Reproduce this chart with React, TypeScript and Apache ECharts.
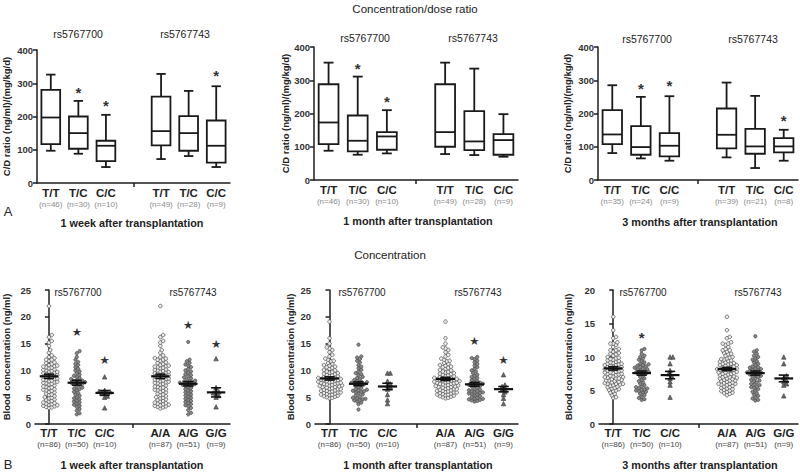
import React, { useEffect, useRef } from "react";
import * as echarts from "echarts";

const FONT = "'Liberation Sans', Arial, sans-serif";

// ---------- Top row: concentration/dose ratio (box plots) ----------
const topCategories = ["T/T", "T/C", "C/C", "", "T/T", "T/C", "C/C"];
const topNWeek = ["(n=46)", "(n=30)", "(n=10)", "", "(n=49)", "(n=28)", "(n=9)"];
const topNMonth = ["(n=46)", "(n=30)", "(n=10)", "", "(n=49)", "(n=28)", "(n=9)"];
const topN3m = ["(n=35)", "(n=24)", "(n=9)", "", "(n=39)", "(n=21)", "(n=8)"];
// [min, Q1, median, Q3, max]
const boxWeek = [[97, 117, 197, 280, 326], [88, 103, 150, 200, 247], [48, 66, 112, 127, 205], null, [72, 113, 156, 260, 328], [81, 97, 150, 201, 277], [48, 61, 112, 188, 291]];
const boxMonth = [[88, 108, 173, 288, 353], [76, 86, 118, 194, 311], [80, 91, 131, 144, 210], null, [78, 100, 144, 288, 353], [75, 90, 116, 207, 335], [70, 76, 120, 138, 198]];
const box3m = [[81, 108, 137, 210, 285], [65, 76, 99, 162, 250], [58, 71, 103, 141, 252], null, [68, 95, 136, 215, 293], [36, 79, 101, 154, 253], [58, 83, 101, 126, 151]];
const starTopWeek = [null, 280, 243, null, null, null, 333];
const starTopMonth = [null, 345, 245, null, null, null, null];
const starTop3m = [null, 285, 292, null, null, null, 188];
const topYTicks = [0, 400, 100];

// ---------- Bottom row: concentration (scatter dot plots) ----------
const botCategories = ["T/T", "T/C", "C/C", "", "A/A", "A/G", "G/G"];
const botN = ["(n=86)", "(n=50)", "(n=10)", "", "(n=87)", "(n=51)", "(n=9)"];

const tt1 = [22.0, 16.6, 16.2, 15.5, 15.2, 14.6, 13.8, 13.3, 12.8, 12.5, 12.3, 12.0, 12.0, 11.8, 11.5, 11.2, 11.0, 10.9, 10.7, 10.5, 10.4, 10.2, 10.0, 9.9, 9.7, 9.6, 9.4, 9.3, 9.1, 9.0, 8.9, 8.8, 8.7, 8.6, 8.5, 8.3, 8.2, 8.0, 7.9, 7.7, 7.6, 7.4, 7.2, 7.0, 6.9, 6.7, 6.5, 6.4, 6.2, 6.0, 5.9, 5.7, 5.5, 5.4, 5.2, 5.0, 4.9, 4.8, 4.6, 4.5, 4.3, 4.2, 4.0, 3.9, 3.8, 3.7, 3.6, 3.5, 3.4, 3.3, 3.2, 3.1, 3.0, 11.4, 10.8, 10.6, 10.1, 9.8, 9.5, 9.2, 8.4, 8.1, 7.8, 7.5, 6.8, 6.3];
const tc1 = [13.6, 13.2, 12.5, 12.0, 11.6, 11.2, 11.0, 10.6, 10.3, 10.0, 9.8, 9.5, 9.2, 9.0, 8.8, 8.6, 8.4, 8.2, 8.0, 7.9, 7.8, 7.7, 7.6, 7.5, 7.3, 7.0, 6.8, 6.5, 6.3, 6.0, 5.8, 5.5, 5.3, 5.0, 4.8, 4.6, 4.4, 4.2, 4.0, 3.8, 3.6, 3.4, 3.2, 2.8, 2.5, 2.0, 1.8, 8.1, 7.4, 6.6];
const cc1 = [8.8, 6.3, 6.1, 6.0, 5.9, 5.8, 5.7, 5.2, 5.0, 3.0];
const aa1 = [22.0, 16.6, 16.2, 15.5, 15.2, 14.6, 13.8, 13.3, 12.8, 12.5, 12.3, 12.2, 12.0, 12.0, 11.8, 11.5, 11.2, 11.0, 10.9, 10.7, 10.5, 10.4, 10.2, 10.0, 9.9, 9.7, 9.6, 9.4, 9.3, 9.1, 9.0, 8.9, 8.8, 8.7, 8.6, 8.5, 8.3, 8.2, 8.0, 7.9, 7.7, 7.6, 7.4, 7.2, 7.0, 6.9, 6.7, 6.5, 6.4, 6.2, 6.0, 5.9, 5.7, 5.5, 5.4, 5.2, 5.0, 4.9, 4.8, 4.6, 4.5, 4.3, 4.2, 4.0, 3.9, 3.8, 3.7, 3.6, 3.5, 3.4, 3.3, 3.2, 3.1, 2.9, 11.4, 10.8, 10.6, 10.1, 9.8, 9.5, 9.2, 8.4, 8.1, 7.8, 7.5, 6.8, 6.3];
const ag1 = [15.3, 12.0, 11.7, 11.4, 11.1, 10.9, 10.6, 10.3, 10.0, 9.8, 9.6, 9.3, 9.1, 8.9, 8.7, 8.5, 8.3, 8.1, 8.0, 7.9, 7.8, 7.7, 7.6, 7.5, 7.4, 7.3, 7.1, 6.9, 6.7, 6.5, 6.3, 6.1, 5.9, 5.7, 5.5, 5.3, 5.1, 4.9, 4.7, 4.5, 4.3, 4.1, 3.9, 3.7, 3.5, 3.3, 3.0, 2.6, 2.1, 1.8, 7.2];
const gg1 = [12.2, 6.8, 6.2, 6.0, 5.8, 5.6, 5.3, 5.0, 3.2];

const tt2 = [19.1, 16.0, 15.0, 14.3, 14.1, 13.8, 13.4, 12.9, 12.6, 12.2, 12.0, 11.7, 11.4, 11.2, 11.0, 10.9, 10.7, 10.5, 10.3, 10.1, 10.0, 9.8, 9.7, 9.5, 9.4, 9.2, 9.1, 9.0, 8.9, 8.8, 8.7, 8.6, 8.5, 8.4, 8.3, 8.2, 8.1, 8.0, 7.9, 7.8, 7.7, 7.6, 7.5, 7.4, 7.3, 7.2, 7.1, 7.0, 6.9, 6.8, 6.7, 6.6, 6.5, 6.4, 6.3, 6.2, 6.1, 6.0, 5.9, 5.8, 5.7, 5.6, 5.5, 5.4, 5.3, 5.2, 5.1, 5.0, 4.9, 4.8, 9.6, 9.3, 8.6, 8.2, 7.9, 7.5, 7.2, 6.9, 6.5, 6.2, 5.9, 5.5, 8.4, 7.7, 10.6, 11.8];
const tc2 = [14.8, 12.6, 12.4, 12.1, 11.8, 11.5, 11.0, 10.7, 10.4, 10.1, 9.8, 9.5, 9.3, 9.1, 8.8, 8.6, 8.4, 8.2, 8.0, 7.9, 7.8, 7.7, 7.6, 7.5, 7.4, 7.3, 7.1, 6.9, 6.7, 6.5, 6.4, 6.3, 6.2, 6.1, 6.0, 5.9, 5.7, 5.5, 5.3, 5.1, 4.9, 4.8, 4.7, 4.6, 4.5, 4.4, 4.2, 4.0, 3.7, 2.7];
const cc2 = [9.5, 9.5, 8.0, 7.5, 7.2, 6.9, 6.5, 5.5, 4.5, 3.8];
const aa2 = [19.1, 16.0, 15.0, 14.3, 14.1, 13.8, 13.4, 12.9, 12.6, 12.2, 12.0, 11.7, 11.4, 11.2, 11.0, 10.9, 10.7, 10.5, 10.3, 10.1, 10.0, 9.8, 9.7, 9.5, 9.4, 9.2, 9.1, 9.0, 8.9, 8.8, 8.7, 8.6, 8.5, 8.4, 8.3, 8.2, 8.1, 8.0, 8.0, 7.9, 7.8, 7.7, 7.6, 7.5, 7.4, 7.3, 7.2, 7.1, 7.0, 6.9, 6.8, 6.7, 6.6, 6.5, 6.4, 6.3, 6.2, 6.1, 6.0, 5.9, 5.8, 5.7, 5.6, 5.5, 5.4, 5.3, 5.2, 5.1, 5.0, 4.9, 4.8, 9.6, 9.3, 8.6, 8.2, 7.9, 7.5, 7.2, 6.9, 6.5, 6.2, 5.9, 5.5, 8.4, 7.7, 10.6, 11.8];
const ag2 = [12.5, 12.3, 12.1, 11.8, 11.5, 11.2, 10.9, 10.6, 10.3, 10.0, 9.8, 9.5, 9.2, 9.0, 8.8, 8.6, 8.4, 8.2, 8.0, 7.8, 7.7, 7.6, 7.5, 7.4, 7.3, 7.2, 7.0, 6.8, 6.6, 6.4, 6.2, 6.1, 6.0, 5.9, 5.8, 5.7, 5.6, 5.5, 5.4, 5.2, 5.0, 4.9, 4.8, 4.7, 4.6, 4.5, 4.4, 4.3, 4.2, 6.3, 7.1];
const gg2 = [9.2, 7.3, 7.0, 6.6, 6.4, 6.0, 5.5, 4.8, 3.8];

const tt3 = [16.0, 14.0, 13.0, 12.8, 12.2, 12.0, 12.0, 11.8, 11.5, 11.2, 11.0, 10.8, 10.6, 10.4, 10.2, 10.0, 9.9, 9.8, 9.6, 9.5, 9.4, 9.3, 9.2, 9.1, 9.0, 8.9, 8.8, 8.7, 8.6, 8.5, 8.4, 8.3, 8.2, 8.1, 8.0, 7.9, 7.8, 7.7, 7.6, 7.5, 7.4, 7.3, 7.2, 7.1, 7.0, 6.9, 6.8, 6.7, 6.6, 6.5, 6.4, 6.3, 6.2, 6.1, 6.0, 6.0, 5.9, 5.8, 5.7, 5.6, 5.5, 5.4, 5.3, 5.2, 5.1, 5.0, 4.9, 4.7, 4.5, 4.3, 4.0, 3.9, 9.7, 9.0, 8.5, 8.0, 7.5, 7.0, 6.5, 6.0, 10.5, 11.0, 8.8, 8.2, 7.7, 6.8];
const tc3 = [11.2, 11.0, 10.5, 10.2, 10.0, 9.8, 9.6, 9.4, 9.2, 9.0, 8.8, 8.7, 8.6, 8.5, 8.4, 8.3, 8.2, 8.1, 8.0, 7.9, 7.8, 7.7, 7.6, 7.5, 7.4, 7.2, 7.0, 6.8, 6.6, 6.4, 6.2, 6.0, 5.8, 5.6, 5.5, 5.4, 5.3, 5.2, 5.1, 5.0, 4.9, 4.8, 4.7, 4.5, 4.3, 4.1, 3.9, 3.7, 3.6, 8.9];
const cc3 = [10.0, 10.0, 9.0, 8.0, 7.5, 7.2, 6.8, 6.3, 5.8, 4.0];
const aa3 = [16.0, 14.0, 13.0, 12.8, 12.2, 12.0, 12.0, 11.8, 11.5, 11.2, 11.0, 10.8, 10.6, 10.4, 10.2, 10.0, 9.9, 9.8, 9.6, 9.5, 9.4, 9.3, 9.2, 9.1, 9.0, 8.9, 8.8, 8.7, 8.6, 8.5, 8.4, 8.3, 8.2, 8.1, 8.1, 8.0, 7.9, 7.8, 7.7, 7.6, 7.5, 7.4, 7.3, 7.2, 7.1, 7.0, 6.9, 6.8, 6.7, 6.6, 6.5, 6.4, 6.3, 6.2, 6.1, 6.0, 6.0, 5.9, 5.8, 5.7, 5.6, 5.5, 5.4, 5.3, 5.2, 5.1, 5.0, 4.9, 4.7, 4.5, 4.3, 4.6, 4.8, 9.7, 9.0, 8.5, 8.0, 7.5, 7.0, 6.5, 6.0, 10.5, 11.0, 8.8, 8.2, 7.7, 6.8];
const ag3 = [13.1, 11.0, 10.8, 10.5, 10.2, 10.0, 9.8, 9.6, 9.4, 9.2, 9.0, 8.8, 8.6, 8.5, 8.4, 8.3, 8.2, 8.1, 8.0, 7.9, 7.8, 7.7, 7.6, 7.5, 7.4, 7.3, 7.2, 7.0, 6.8, 6.6, 6.4, 6.2, 6.0, 5.8, 5.6, 5.5, 5.4, 5.2, 5.0, 4.8, 4.6, 4.4, 4.2, 4.0, 3.8, 3.6, 3.5, 7.7, 7.1, 6.5, 5.9];
const gg3 = [10.0, 9.0, 7.2, 6.9, 6.5, 6.3, 6.0, 5.8, 4.2];

// mean and SEM per group
const meanWeek = [8.9, 7.7, 5.8, null, 8.9, 7.5, 5.9];
const semWeek = [0.4, 0.45, 0.45, null, 0.4, 0.4, 0.85];
const meanMonth = [8.5, 7.5, 7.0, null, 8.4, 7.4, 6.5];
const semMonth = [0.3, 0.35, 0.6, null, 0.3, 0.35, 0.5];
const mean3m = [8.3, 7.6, 7.3, null, 8.2, 7.6, 6.8];
const sem3m = [0.25, 0.3, 0.55, null, 0.25, 0.3, 0.5];
const starBotWeek = [null, 17.2, 12.0, null, null, 18.5, 15.0];
const starBotMonth = [null, null, null, null, null, 15.5, 12.0];
const starBot3m = [null, 13.3, null, null, null, null, null];

const AXIS = "#1e1e1e";

type Panel = {
  kind: "box" | "dot";
  left: number; top: number; width: number; height: number;
  yMax: number; nameGap: number; yName: string;
  cats: string[]; nLabels: string[];
  boxes?: (number[] | null)[];
  groups?: (number[] | null)[];
  means?: (number | null)[]; sems?: (number | null)[];
  stars: (number | null)[];
  starGlyph: string;
};

const panels: Panel[] = [
  { kind: "box", left: 32, top: 50, width: 198, height: 133, yMax: 400, nameGap: 26, yName: "C/D ratio (ng/ml)/(mg/kg/d)", cats: topCategories, nLabels: topNWeek, boxes: boxWeek, stars: starTopWeek, starGlyph: "*" },
  { kind: "box", left: 314, top: 47, width: 204, height: 133, yMax: 400, nameGap: 20, yName: "C/D ratio (ng/ml)/(mg/kg/d)", cats: topCategories, nLabels: topNMonth, boxes: boxMonth, stars: starTopMonth, starGlyph: "*" },
  { kind: "box", left: 598, top: 47, width: 200, height: 133, yMax: 400, nameGap: 26, yName: "C/D ratio (ng/ml)/(mg/kg/d)", cats: topCategories, nLabels: topN3m, boxes: box3m, stars: starTop3m, starGlyph: "*" },
  { kind: "dot", left: 34, top: 290, width: 196, height: 134, yMax: 25, nameGap: 24, yName: "Blood concentration (ng/ml)", cats: botCategories, nLabels: botN, groups: [tt1, tc1, cc1, null, aa1, ag1, gg1], means: meanWeek, sems: semWeek, stars: starBotWeek, starGlyph: "★" },
  { kind: "dot", left: 315, top: 290, width: 203, height: 134, yMax: 25, nameGap: 20, yName: "Blood concentration (ng/ml)", cats: botCategories, nLabels: botN, groups: [tt2, tc2, cc2, null, aa2, ag2, gg2], means: meanMonth, sems: semMonth, stars: starBotMonth, starGlyph: "★" },
  { kind: "dot", left: 599, top: 290, width: 199, height: 134, yMax: 20, nameGap: 26, yName: "Blood concentration (ng/ml)", cats: botCategories, nLabels: botN, groups: [tt3, tc3, cc3, null, aa3, ag3, gg3], means: mean3m, sems: sem3m, stars: starBot3m, starGlyph: "*" },
];

const markerStyles = [
  { symbol: "circle", size: 3.6, color: "#ececec", border: "#4a4a4a" },
  { symbol: "circle", size: 3.3, color: "#8a8a8a", border: "#444" },
  { symbol: "triangle", size: 4.4, color: "#6a6a6a", border: "#444" },
];

function swarm(values: number[], center: number, sx: number, sy: number, d: number) {
  const sorted = [...values].sort((a, b) => a - b);
  const placed: [number, number][] = [];
  const out: number[][] = [];
  for (const v of sorted) {
    const py = v * sy;
    let best = 0;
    for (let k = 0; k < 80; k++) {
      const off = k === 0 ? 0 : (k % 2 ? 1 : -1) * Math.ceil(k / 2) * d * 0.5;
      let ok = true;
      for (const [px, qy] of placed) {
        if ((px - off) ** 2 + (qy - py) ** 2 < d * d) { ok = false; break; }
      }
      if (ok) { best = off; break; }
    }
    placed.push([best, py]);
    out.push([center + best / sx, v]);
  }
  return out;
}

function buildOption() {
  const grid: any[] = [];
  const xAxis: any[] = [];
  const yAxis: any[] = [];
  const series: any[] = [];
  const lineStyle = { color: AXIS, width: 1.5 };

  panels.forEach((p, i) => {
    grid.push({ left: p.left, top: p.top, width: p.width, height: p.height });
    const top = p.kind === "box";
    xAxis.push({
      type: "category", gridIndex: i, data: p.cats,
      axisLine: { lineStyle },
      axisTick: { show: true, alignWithLabel: true, interval: (idx: number) => idx === 3, length: 4, lineStyle },
      axisLabel: {
        interval: 0, margin: top ? 3 : 2,
        formatter: (_v: string, idx: number) => p.cats[idx] ? `{g|${p.cats[idx]}}\n{n|${p.nLabels[idx]}}` : "",
        rich: {
          g: { fontFamily: FONT, fontSize: 11.5, fontWeight: "bold", color: "#222", lineHeight: 13 },
          n: { fontFamily: FONT, fontSize: 8, color: top ? "#8a8a8a" : "#444", lineHeight: 11 },
        },
      },
      splitLine: { show: false },
    });
    yAxis.push({
      type: "value", gridIndex: i, min: 0, max: p.yMax, interval: top ? topYTicks[2] : 5,
      name: p.yName, nameLocation: "middle", nameRotate: 90, nameGap: p.nameGap,
      nameTextStyle: { fontFamily: FONT, fontSize: top ? 9.5 : 9.5, fontWeight: "bold", color: "#222" },
      axisLine: { show: true, lineStyle },
      axisTick: { show: true, length: 4, lineStyle },
      axisLabel: { fontFamily: FONT, fontSize: 9.5, fontWeight: "bold", color: "#333", margin: 4 },
      splitLine: { show: false },
    });
  });

  panels.forEach((p, i) => {
    if (p.kind === "box") {
      series.push({
        type: "custom", xAxisIndex: i, yAxisIndex: i,
        data: (p.boxes || []).map((b, j) => (b ? [j, ...b] : null)).filter(Boolean),
        renderItem: (_params: any, api: any) => {
          const x = api.value(0);
          const pMin = api.coord([x, api.value(1)]);
          const pQ1 = api.coord([x, api.value(2)]);
          const pMd = api.coord([x, api.value(3)]);
          const pQ3 = api.coord([x, api.value(4)]);
          const pMax = api.coord([x, api.value(5)]);
          const bw = api.size([1, 0])[0] * 0.68;
          const cw = bw * 0.5;
          const cx = pMin[0];
          const st = { stroke: "#1a1a1a", lineWidth: 1.8, fill: "none" };
          return {
            type: "group",
            children: [
              { type: "rect", shape: { x: cx - bw / 2, y: pQ3[1], width: bw, height: pQ1[1] - pQ3[1] }, style: { ...st, fill: "#fff" } },
              { type: "line", shape: { x1: cx - bw / 2, y1: pMd[1], x2: cx + bw / 2, y2: pMd[1] }, style: st },
              { type: "line", shape: { x1: cx, y1: pMax[1], x2: cx, y2: pQ3[1] }, style: st },
              { type: "line", shape: { x1: cx, y1: pQ1[1], x2: cx, y2: pMin[1] }, style: st },
              { type: "line", shape: { x1: cx - cw / 2, y1: pMax[1], x2: cx + cw / 2, y2: pMax[1] }, style: st },
              { type: "line", shape: { x1: cx - cw / 2, y1: pMin[1], x2: cx + cw / 2, y2: pMin[1] }, style: st },
            ],
          };
        },
      });
      series.push({
        type: "custom", xAxisIndex: i, yAxisIndex: i,
        data: p.stars.map((s, j) => (s == null ? null : [j, s])).filter(Boolean),
        renderItem: (_params: any, api: any) => {
          const pt = api.coord([api.value(0), api.value(1)]);
          return { type: "text", x: pt[0], y: pt[1] + 3, style: { text: p.starGlyph, fontSize: 15, fontWeight: "bold", fontFamily: FONT, fill: "#333", align: "center", verticalAlign: "middle" } };
        },
      });
    } else {
      const vIdx = xAxis.length;
      xAxis.push({ type: "value", gridIndex: i, min: -0.5, max: 6.5, show: false });
      const sx = p.width / 7;
      const sy = p.height / p.yMax;
      (p.groups || []).forEach((g, j) => {
        if (!g) return;
        const m = markerStyles[j > 3 ? j - 4 : j];
        series.push({
          type: "scatter", xAxisIndex: vIdx, yAxisIndex: i,
          symbol: m.symbol, symbolSize: m.size,
          itemStyle: { color: m.color, borderColor: m.border, borderWidth: 0.7, opacity: 1 },
          data: swarm(g, j, sx, sy, 2.8),
          z: 2,
        });
      });
      series.push({
        type: "custom", xAxisIndex: vIdx, yAxisIndex: i, z: 5,
        data: (p.means || []).map((mv, j) => (mv == null ? null : [j, mv, (p.sems || [])[j]])).filter(Boolean),
        renderItem: (_params: any, api: any) => {
          const x = api.value(0), mv = api.value(1), se = api.value(2);
          const pm = api.coord([x, mv]);
          const pHi = api.coord([x, mv + se]);
          const pLo = api.coord([x, mv - se]);
          const u = api.size([1, 0])[0];
          const mw = u * 0.66, cw = u * 0.36;
          return {
            type: "group",
            children: [
              { type: "line", shape: { x1: pm[0] - mw / 2, y1: pm[1], x2: pm[0] + mw / 2, y2: pm[1] }, style: { stroke: "#111", lineWidth: 2.2 } },
              { type: "line", shape: { x1: pm[0], y1: pHi[1], x2: pm[0], y2: pLo[1] }, style: { stroke: "#111", lineWidth: 1.6 } },
              { type: "line", shape: { x1: pm[0] - cw / 2, y1: pHi[1], x2: pm[0] + cw / 2, y2: pHi[1] }, style: { stroke: "#111", lineWidth: 1.6 } },
              { type: "line", shape: { x1: pm[0] - cw / 2, y1: pLo[1], x2: pm[0] + cw / 2, y2: pLo[1] }, style: { stroke: "#111", lineWidth: 1.6 } },
            ],
          };
        },
      });
      series.push({
        type: "custom", xAxisIndex: vIdx, yAxisIndex: i, z: 6,
        data: p.stars.map((s, j) => (s == null ? null : [j, s])).filter(Boolean),
        renderItem: (_params: any, api: any) => {
          const pt = api.coord([api.value(0), api.value(1)]);
          const isStar = p.starGlyph === "★";
          return {
            type: "text", x: pt[0], y: pt[1] + (isStar ? 0 : 3),
            style: { text: p.starGlyph, fontSize: isStar ? 11.5 : 15, fontWeight: isStar ? "normal" : "bold", fontFamily: isStar ? "DejaVu Sans" : FONT, fill: "#333", align: "center", verticalAlign: "middle" },
          };
        },
      });
    }
  });

  const txt = (text: string, x: number, y: number, size: number, bold = false, color = "#222") => ({
    type: "text", x, y, silent: true,
    style: { text, fontSize: size, fontWeight: bold ? "bold" : "normal", fontFamily: FONT, fill: color, align: "center", verticalAlign: "middle" },
  });

  const graphic = [
    txt("Concentration/dose ratio", 415, 9, 11.5),
    txt("Concentration", 390, 255, 11.5),
    txt("rs5767700", 78, 34, 10.5), txt("rs5767743", 185, 34, 10.5),
    txt("rs5767700", 365, 38, 10.5), txt("rs5767743", 473, 38, 10.5),
    txt("rs5767700", 647, 39, 10.5), txt("rs5767743", 753, 39, 10.5),
    txt("rs5767700", 78, 292, 10), txt("rs5767743", 193, 292, 10),
    txt("rs5767700", 362, 292, 10), txt("rs5767743", 478, 292, 10),
    txt("rs5767700", 643, 292, 10), txt("rs5767743", 758, 292, 10),
    txt("A", 8, 211, 13), txt("B", 8, 464, 13),
    txt("1 week after transplantation", 132, 223, 10.8, true),
    txt("1 month after transplantation", 418, 221, 10.8, true),
    txt("3 months after transplantation", 700, 222, 10.8, true),
    txt("1 week after transplantation", 132, 465, 10.8, true),
    txt("1 month after transplantation", 418, 465, 10.8, true),
    txt("3 months after transplantation", 700, 465, 10.8, true),
  ];

  return { animation: false, backgroundColor: "#fff", grid, xAxis, yAxis, series, graphic };
}

export default function App() {
  const ref = useRef<HTMLDivElement>(null);
  useEffect(() => {
    if (!ref.current) return;
    const chart = echarts.init(ref.current, undefined, { renderer: "svg" });
    chart.setOption(buildOption() as any);
    return () => chart.dispose();
  }, []);
  return <div ref={ref} style={{ position: "fixed", left: 0, top: 0, width: 800, height: 475, background: "#fff" }} />;
}
